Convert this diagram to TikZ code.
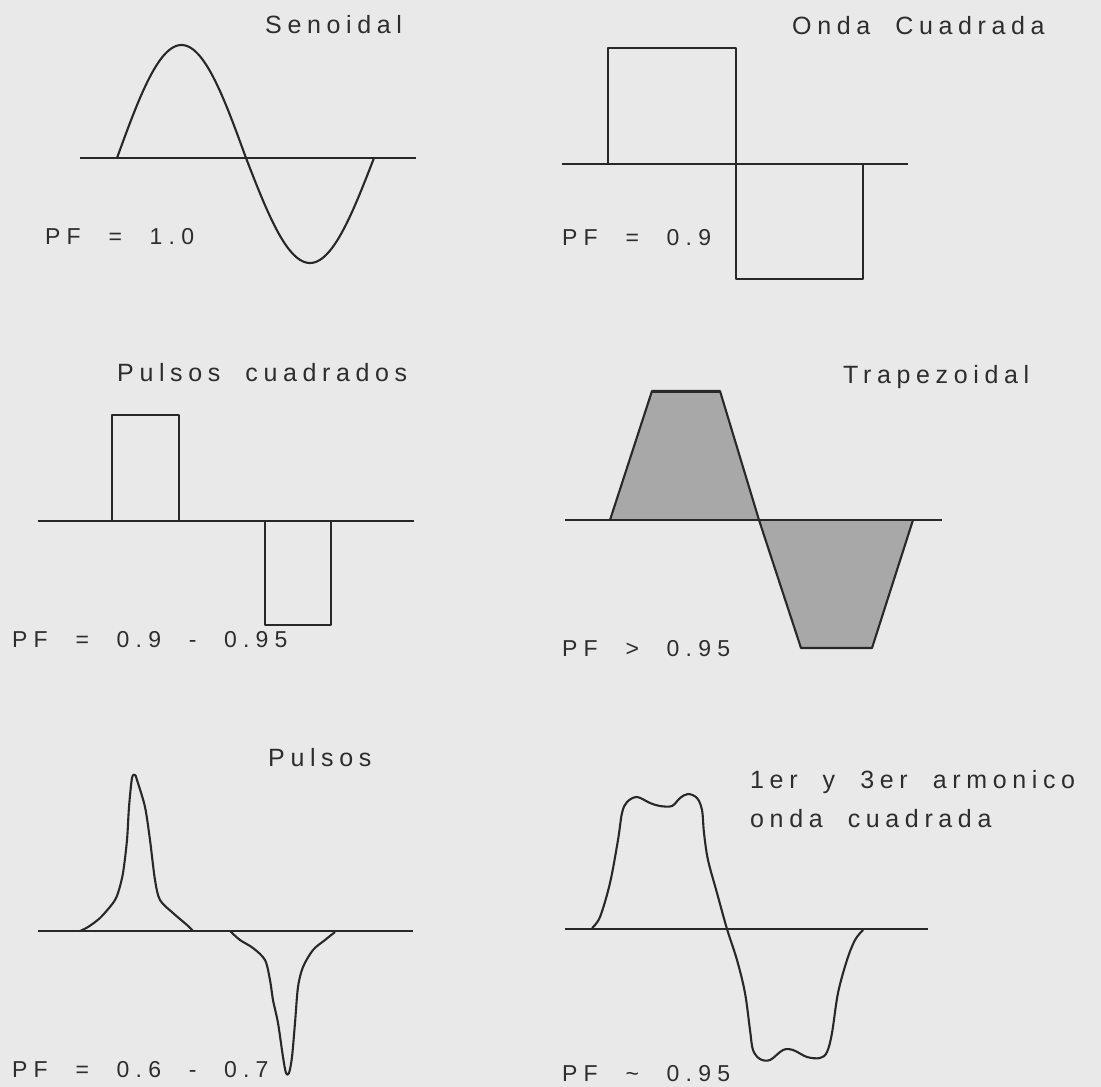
\documentclass[tikz,border=0pt]{standalone}
\usepackage{fontspec}
\newfontfamily\titlefont[LetterSpace=22.5,WordSpace=2]{Liberation Sans}
\newfontfamily\pffont[LetterSpace=27,WordSpace=2.2]{Liberation Sans}
\definecolor{bgc}{RGB}{233,233,233}
\definecolor{linec}{RGB}{40,40,40}
\definecolor{txtc}{RGB}{45,45,45}
\definecolor{fillc}{RGB}{168,168,168}
\begin{document}
\begin{tikzpicture}[x=1pt,y=-1pt,
  wave/.style={draw=linec,line width=2.1pt,line join=round},
  axisline/.style={draw=linec,line width=2.1pt},
  ttl/.style={anchor=base west,inner sep=0pt,text=txtc,font=\titlefont\fontsize{25}{29}\selectfont},
  lbl/.style={anchor=base west,inner sep=0pt,text=txtc,font=\pffont\fontsize{23}{27}\selectfont}]
\fill[bgc] (0,0) rectangle (1101,1087);
\useasboundingbox (0,0) rectangle (1101,1087);

% ---- Senoidal
\node[ttl] (t1) at (265,33) {Senoidal};
\node[lbl] (p1) at (45,244) {PF = 1.0};
\draw[axisline] (80,158) -- (416,158);
\draw[wave] plot[domain=117:246,samples=60] ({\x},{158-113*sin((\x-117)/129*180)})
  -- plot[domain=246:374,samples=60] ({\x},{158+105*sin((\x-246)/128*180)});

% ---- Onda Cuadrada
\node[ttl] (t2) at (792,34) {Onda Cuadrada};
\node[lbl] (p2) at (562,245) {PF = 0.9};
\draw[axisline] (562,164) -- (908,164);
\draw[wave] (608,164) -- (608,48) -- (736,48) -- (736,279) -- (863,279) -- (863,164);

% ---- Pulsos cuadrados
\node[ttl] (t3) at (117,381) {Pulsos cuadrados};
\node[lbl] (p3) at (12,647) {PF = 0.9 - 0.95};
\draw[axisline] (38,521) -- (414,521);
\draw[wave] (112,521) -- (112,415) -- (179,415) -- (179,521);
\draw[wave] (265,521) -- (265,625) -- (331,625) -- (331,521);

% ---- Trapezoidal
\node[ttl] (t4) at (843,383) {Trapezoidal};
\node[lbl] (p4) at (562,656) {PF > 0.95};
\fill[fillc] (610,520) -- (652,391) -- (720,391) -- (759,520) -- cycle;
\fill[fillc] (759,520) -- (801,648) -- (872,648) -- (913,520) -- cycle;
\draw[wave] (610,520) -- (652,391) -- (720,391) -- (759,520) -- (801,648) -- (872,648) -- (913,520);
\draw[linec,line width=3pt] (652,391) -- (720,391);
\draw[axisline] (565,520) -- (942,520);

% ---- Pulsos
\node[ttl] (t5) at (268,766) {Pulsos};
\node[lbl] (p5) at (12,1077) {PF = 0.6 - 0.7};
\draw[axisline] (38,931) -- (413,931);
\draw[wave] plot[smooth,tension=0.5] coordinates {
  (80,931) (88,927) (100,918) (113,903) (118,893) (123,873) (127,840) (129,807)
  (132,778) (135,775) (137,780) (145,807) (150,840) (155,880) (160,900) (173,913)
  (187,925) (193,931)};
\draw[wave] plot[smooth,tension=0.5] coordinates {
  (230,931) (240,940) (253,948) (265,960) (270,980) (273,1000) (278,1023) (283,1057)
  (286,1073) (289,1073) (292,1057) (295,1023) (298,987) (303,967) (313,950) (325,940)
  (335,932)};

% ---- 1er y 3er armonico
\node[ttl] (t6) at (750,788) {1er y 3er armonico};
\node[ttl] (t6b) at (750,827) {onda cuadrada};
\node[lbl] (p6) at (562,1081) {PF \char"007E{} 0.95};
\draw[axisline] (565,929) -- (928,929);
\draw[wave] plot[smooth,tension=0.55] coordinates {
  (592,928) (600,917) (610,883) (618,840) (622,813) (627,802) (637,797) (650,803)
  (660,806) (672,806) (680,798) (688,794) (697,798) (702,810) (704,833) (708,860)
  (717,893) (727,929) (737,960) (745,993) (750,1030) (753,1050) (760,1059) (770,1060)
  (783,1050) (793,1050) (807,1057) (820,1058) (827,1052) (832,1033) (838,993)
  (847,960) (855,940) (863,930)};
\end{tikzpicture}
\end{document}
